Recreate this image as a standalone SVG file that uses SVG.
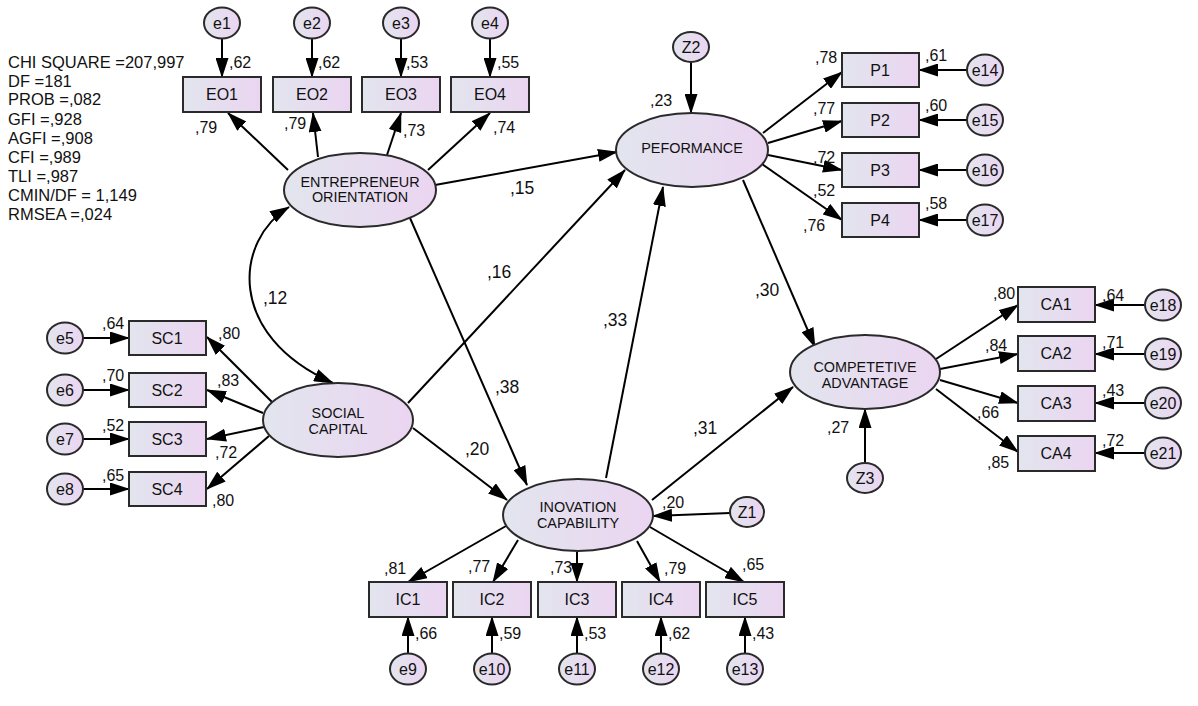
<svg xmlns="http://www.w3.org/2000/svg" width="1198" height="706" viewBox="0 0 1198 706">
<defs>
<linearGradient id="g" x1="0" y1="0" x2="1" y2="0">
<stop offset="0" stop-color="#e2e5ee"/>
<stop offset="1" stop-color="#ebd5f1"/>
</linearGradient>
<marker id="ah" markerUnits="userSpaceOnUse" markerWidth="20" markerHeight="13" refX="19" refY="6.5" orient="auto-start-reverse">
<path d="M0,0 L20,6.5 L0,13 z" fill="#000"/>
</marker>
<style>
.b{fill:url(#g);stroke:#2a2a2a;stroke-width:2}
.c{stroke:#000;stroke-width:2;fill:none;marker-end:url(#ah)}
.t{font-family:"Liberation Sans",Arial,sans-serif;font-size:16px;fill:#111}
.m{text-anchor:middle}
.l{font-family:"Liberation Sans",Arial,sans-serif;font-size:14.4px;fill:#111;text-anchor:middle}
.s{font-family:"Liberation Sans",Arial,sans-serif;font-size:17.5px;fill:#111}
.st{font-family:"Liberation Sans",Arial,sans-serif;font-size:16.5px;fill:#111}
</style>
</defs>
<rect width="1198" height="706" fill="#fff"/>

<g id="stats" class="st">
<text x="8" y="68">CHI SQUARE =207,997</text>
<text x="8" y="87">DF =181</text>
<text x="8" y="105">PROB =,082</text>
<text x="8" y="125">GFI =,928</text>
<text x="8" y="144">AGFI =,908</text>
<text x="8" y="163">CFI =,989</text>
<text x="8" y="182">TLI =,987</text>
<text x="8" y="201">CMIN/DF = 1,149</text>
<text x="8" y="220">RMSEA =,024</text>
</g>

<g id="connectors">
<!-- e -> EO -->
<line class="c" x1="222" y1="39" x2="222" y2="77"/>
<line class="c" x1="312" y1="39" x2="312" y2="77"/>
<line class="c" x1="401" y1="39" x2="401" y2="77"/>
<line class="c" x1="490" y1="39" x2="490" y2="77"/>
<!-- EO -> boxes -->
<line class="c" x1="288" y1="170" x2="228" y2="113"/>
<line class="c" x1="318" y1="157" x2="313" y2="113"/>
<line class="c" x1="387" y1="155" x2="401" y2="113"/>
<line class="c" x1="428" y1="170" x2="490" y2="113"/>
<!-- PEF -->
<line class="c" x1="691" y1="62" x2="691" y2="113"/>
<line class="c" x1="763" y1="133" x2="842" y2="72"/>
<line class="c" x1="768" y1="143" x2="842" y2="121"/>
<line class="c" x1="768" y1="155" x2="842" y2="170"/>
<line class="c" x1="762" y1="164" x2="842" y2="220"/>
<line class="c" x1="967" y1="70" x2="919" y2="70"/>
<line class="c" x1="967" y1="120" x2="919" y2="120"/>
<line class="c" x1="967" y1="170" x2="919" y2="170"/>
<line class="c" x1="967" y1="220" x2="919" y2="220"/>
<!-- CA -->
<line class="c" x1="865" y1="463" x2="865" y2="409"/>
<line class="c" x1="936" y1="359" x2="1018" y2="305"/>
<line class="c" x1="940" y1="369" x2="1018" y2="354"/>
<line class="c" x1="940" y1="380" x2="1018" y2="403"/>
<line class="c" x1="936" y1="389" x2="1018" y2="452"/>
<line class="c" x1="1145" y1="305" x2="1095" y2="305"/>
<line class="c" x1="1145" y1="354" x2="1095" y2="354"/>
<line class="c" x1="1145" y1="403" x2="1095" y2="403"/>
<line class="c" x1="1145" y1="453" x2="1095" y2="453"/>
<!-- SC -->
<line class="c" x1="272" y1="402" x2="207" y2="337"/>
<line class="c" x1="263" y1="413" x2="207" y2="390"/>
<line class="c" x1="264" y1="427" x2="207" y2="439"/>
<line class="c" x1="269" y1="436" x2="207" y2="489"/>
<line class="c" x1="83" y1="338" x2="129" y2="338"/>
<line class="c" x1="83" y1="390" x2="129" y2="390"/>
<line class="c" x1="83" y1="439" x2="129" y2="439"/>
<line class="c" x1="83" y1="489" x2="129" y2="489"/>
<!-- IC -->
<line class="c" x1="730" y1="513" x2="653" y2="516"/>
<line class="c" x1="506" y1="526" x2="408" y2="582"/>
<line class="c" x1="518" y1="540" x2="493" y2="582"/>
<line class="c" x1="577" y1="552" x2="577" y2="582"/>
<line class="c" x1="637" y1="541" x2="660" y2="582"/>
<line class="c" x1="650" y1="527" x2="744" y2="582"/>
<line class="c" x1="408" y1="654" x2="408" y2="617"/>
<line class="c" x1="492" y1="654" x2="492" y2="617"/>
<line class="c" x1="577" y1="654" x2="577" y2="617"/>
<line class="c" x1="661" y1="654" x2="661" y2="617"/>
<line class="c" x1="745" y1="654" x2="745" y2="617"/>
<!-- structural -->
<line class="c" x1="435" y1="185" x2="617" y2="152"/>
<line class="c" x1="410" y1="218" x2="527" y2="485"/>
<line class="c" x1="408" y1="403" x2="625" y2="170"/>
<line class="c" x1="413" y1="428" x2="507" y2="500"/>
<line class="c" x1="606" y1="478" x2="663" y2="187"/>
<line class="c" x1="652" y1="500" x2="793" y2="387"/>
<line class="c" x1="743" y1="180" x2="815" y2="347"/>
<path class="c" d="M289,207 C235,240 225,335 333,383" style="marker-start:url(#ah)"/>
</g>

<g id="EO">
<ellipse class="b" cx="360" cy="190" rx="76" ry="37"/>
<text class="l" x="360" y="187">ENTREPRENEUR</text>
<text class="l" x="360" y="202">ORIENTATION</text>
</g>
<g id="PEF">
<ellipse class="b" cx="692" cy="150" rx="76" ry="37"/>
<text class="l" x="692" y="153">PEFORMANCE</text>
</g>
<g id="CA">
<ellipse class="b" cx="865" cy="372" rx="75" ry="37"/>
<text class="l" x="865" y="372">COMPETETIVE</text>
<text class="l" x="865" y="388">ADVANTAGE</text>
</g>
<g id="SC">
<ellipse class="b" cx="338" cy="420" rx="75" ry="37"/>
<text class="l" x="338" y="418">SOCIAL</text>
<text class="l" x="338" y="434">CAPITAL</text>
</g>
<g id="IC">
<ellipse class="b" cx="578" cy="515" rx="75" ry="36"/>
<text class="l" x="578" y="512">INOVATION</text>
<text class="l" x="578" y="528">CAPABILITY</text>
</g>

<g id="EO1"><rect class="b" x="183" y="77" width="78" height="35"/><text class="t m" x="222" y="100">EO1</text></g>
<g id="EO2"><rect class="b" x="273" y="77" width="78" height="35"/><text class="t m" x="312" y="100">EO2</text></g>
<g id="EO3"><rect class="b" x="362" y="77" width="78" height="35"/><text class="t m" x="401" y="100">EO3</text></g>
<g id="EO4"><rect class="b" x="451" y="77" width="78" height="35"/><text class="t m" x="490" y="100">EO4</text></g>

<g id="P1"><rect class="b" x="842" y="53" width="77" height="34"/><text class="t m" x="880" y="76">P1</text></g>
<g id="P2"><rect class="b" x="842" y="103" width="77" height="34"/><text class="t m" x="880" y="126">P2</text></g>
<g id="P3"><rect class="b" x="842" y="153" width="77" height="34"/><text class="t m" x="880" y="176">P3</text></g>
<g id="P4"><rect class="b" x="842" y="203" width="77" height="34"/><text class="t m" x="880" y="226">P4</text></g>

<g id="CA1"><rect class="b" x="1018" y="287" width="77" height="35"/><text class="t m" x="1056" y="310">CA1</text></g>
<g id="CA2"><rect class="b" x="1018" y="336" width="77" height="35"/><text class="t m" x="1056" y="359">CA2</text></g>
<g id="CA3"><rect class="b" x="1018" y="386" width="77" height="35"/><text class="t m" x="1056" y="409">CA3</text></g>
<g id="CA4"><rect class="b" x="1018" y="436" width="77" height="35"/><text class="t m" x="1056" y="459">CA4</text></g>

<g id="SC1"><rect class="b" x="129" y="321" width="77" height="34"/><text class="t m" x="167" y="344">SC1</text></g>
<g id="SC2"><rect class="b" x="129" y="373" width="77" height="34"/><text class="t m" x="167" y="396">SC2</text></g>
<g id="SC3"><rect class="b" x="129" y="422" width="77" height="34"/><text class="t m" x="167" y="445">SC3</text></g>
<g id="SC4"><rect class="b" x="129" y="472" width="77" height="34"/><text class="t m" x="167" y="495">SC4</text></g>

<g id="IC1"><rect class="b" x="369" y="582" width="78" height="35"/><text class="t m" x="408" y="605">IC1</text></g>
<g id="IC2"><rect class="b" x="453" y="582" width="78" height="35"/><text class="t m" x="492" y="605">IC2</text></g>
<g id="IC3"><rect class="b" x="538" y="582" width="78" height="35"/><text class="t m" x="577" y="605">IC3</text></g>
<g id="IC4"><rect class="b" x="622" y="582" width="78" height="35"/><text class="t m" x="661" y="605">IC4</text></g>
<g id="IC5"><rect class="b" x="706" y="582" width="78" height="35"/><text class="t m" x="745" y="605">IC5</text></g>

<g id="e1"><ellipse class="b" cx="222" cy="23" rx="18" ry="15.5"/><text class="t m" x="222" y="29">e1</text></g>
<g id="e2"><ellipse class="b" cx="312" cy="23" rx="18" ry="15.5"/><text class="t m" x="312" y="29">e2</text></g>
<g id="e3"><ellipse class="b" cx="401" cy="23" rx="18" ry="15.5"/><text class="t m" x="401" y="29">e3</text></g>
<g id="e4"><ellipse class="b" cx="490" cy="23" rx="18" ry="15.5"/><text class="t m" x="490" y="29">e4</text></g>
<g id="Z2"><ellipse class="b" cx="691" cy="47" rx="18" ry="15"/><text class="t m" x="691" y="53">Z2</text></g>
<g id="e14"><ellipse class="b" cx="985" cy="70" rx="18" ry="15.5"/><text class="t m" x="985" y="76">e14</text></g>
<g id="e15"><ellipse class="b" cx="985" cy="120" rx="18" ry="15.5"/><text class="t m" x="985" y="126">e15</text></g>
<g id="e16"><ellipse class="b" cx="985" cy="170" rx="18" ry="15.5"/><text class="t m" x="985" y="176">e16</text></g>
<g id="e17"><ellipse class="b" cx="985" cy="220" rx="18" ry="15.5"/><text class="t m" x="985" y="226">e17</text></g>
<g id="e18"><ellipse class="b" cx="1163" cy="305" rx="18" ry="15.5"/><text class="t m" x="1163" y="311">e18</text></g>
<g id="e19"><ellipse class="b" cx="1163" cy="354" rx="18" ry="15.5"/><text class="t m" x="1163" y="360">e19</text></g>
<g id="e20"><ellipse class="b" cx="1163" cy="403" rx="18" ry="15.5"/><text class="t m" x="1163" y="409">e20</text></g>
<g id="e21"><ellipse class="b" cx="1163" cy="453" rx="18" ry="15.5"/><text class="t m" x="1163" y="459">e21</text></g>
<g id="Z3"><ellipse class="b" cx="865" cy="478" rx="18" ry="15"/><text class="t m" x="865" y="484">Z3</text></g>
<g id="e5"><ellipse class="b" cx="65" cy="338" rx="18" ry="15.5"/><text class="t m" x="65" y="344">e5</text></g>
<g id="e6"><ellipse class="b" cx="65" cy="390" rx="18" ry="15.5"/><text class="t m" x="65" y="396">e6</text></g>
<g id="e7"><ellipse class="b" cx="65" cy="439" rx="18" ry="15.5"/><text class="t m" x="65" y="445">e7</text></g>
<g id="e8"><ellipse class="b" cx="65" cy="489" rx="18" ry="15.5"/><text class="t m" x="65" y="495">e8</text></g>
<g id="Z1"><ellipse class="b" cx="747" cy="512" rx="17" ry="15"/><text class="t m" x="747" y="518">Z1</text></g>
<g id="e9"><ellipse class="b" cx="408" cy="669" rx="18" ry="15.5"/><text class="t m" x="408" y="675">e9</text></g>
<g id="e10"><ellipse class="b" cx="492" cy="669" rx="18" ry="15.5"/><text class="t m" x="492" y="675">e10</text></g>
<g id="e11"><ellipse class="b" cx="577" cy="669" rx="18" ry="15.5"/><text class="t m" x="577" y="675">e11</text></g>
<g id="e12"><ellipse class="b" cx="661" cy="669" rx="18" ry="15.5"/><text class="t m" x="661" y="675">e12</text></g>
<g id="e13"><ellipse class="b" cx="745" cy="669" rx="18" ry="15.5"/><text class="t m" x="745" y="675">e13</text></g>

<g id="labels" class="t">
<text x="229" y="68">,62</text>
<text x="318" y="68">,62</text>
<text x="406" y="68">,53</text>
<text x="497" y="68">,55</text>
<text x="195" y="133">,79</text>
<text x="284" y="129">,79</text>
<text x="403" y="136">,73</text>
<text x="493" y="133">,74</text>
<text x="650" y="106">,23</text>
<text x="925" y="61">,61</text>
<text x="925" y="111">,60</text>
<text x="925" y="209">,58</text>
<text x="815" y="63">,78</text>
<text x="813" y="114">,77</text>
<text x="813" y="163">,72</text>
<text x="813" y="196">,52</text>
<text x="803" y="231">,76</text>
<text x="1102" y="301">,64</text>
<text x="1102" y="348">,71</text>
<text x="1102" y="396">,43</text>
<text x="1102" y="446">,72</text>
<text x="993" y="299">,80</text>
<text x="985" y="351">,84</text>
<text x="977" y="418">,66</text>
<text x="987" y="468">,85</text>
<text x="827" y="433">,27</text>
<text x="102" y="329">,64</text>
<text x="102" y="381">,70</text>
<text x="102" y="431">,52</text>
<text x="102" y="481">,65</text>
<text x="218" y="339">,80</text>
<text x="217" y="386">,83</text>
<text x="215" y="458">,72</text>
<text x="212" y="506">,80</text>
<text x="662" y="508">,20</text>
<text x="384" y="574">,81</text>
<text x="468" y="572">,77</text>
<text x="550" y="573">,73</text>
<text x="664" y="574">,79</text>
<text x="742" y="570">,65</text>
<text x="415" y="639">,66</text>
<text x="499" y="639">,59</text>
<text x="584" y="639">,53</text>
<text x="668" y="639">,62</text>
<text x="752" y="639">,43</text>
</g>
<g id="path-labels" class="s">
<text x="510" y="194">,15</text>
<text x="487" y="278">,16</text>
<text x="263" y="304">,12</text>
<text x="495" y="393">,38</text>
<text x="465" y="455">,20</text>
<text x="603" y="326">,33</text>
<text x="693" y="434">,31</text>
<text x="755" y="296">,30</text>
</g>
</svg>
